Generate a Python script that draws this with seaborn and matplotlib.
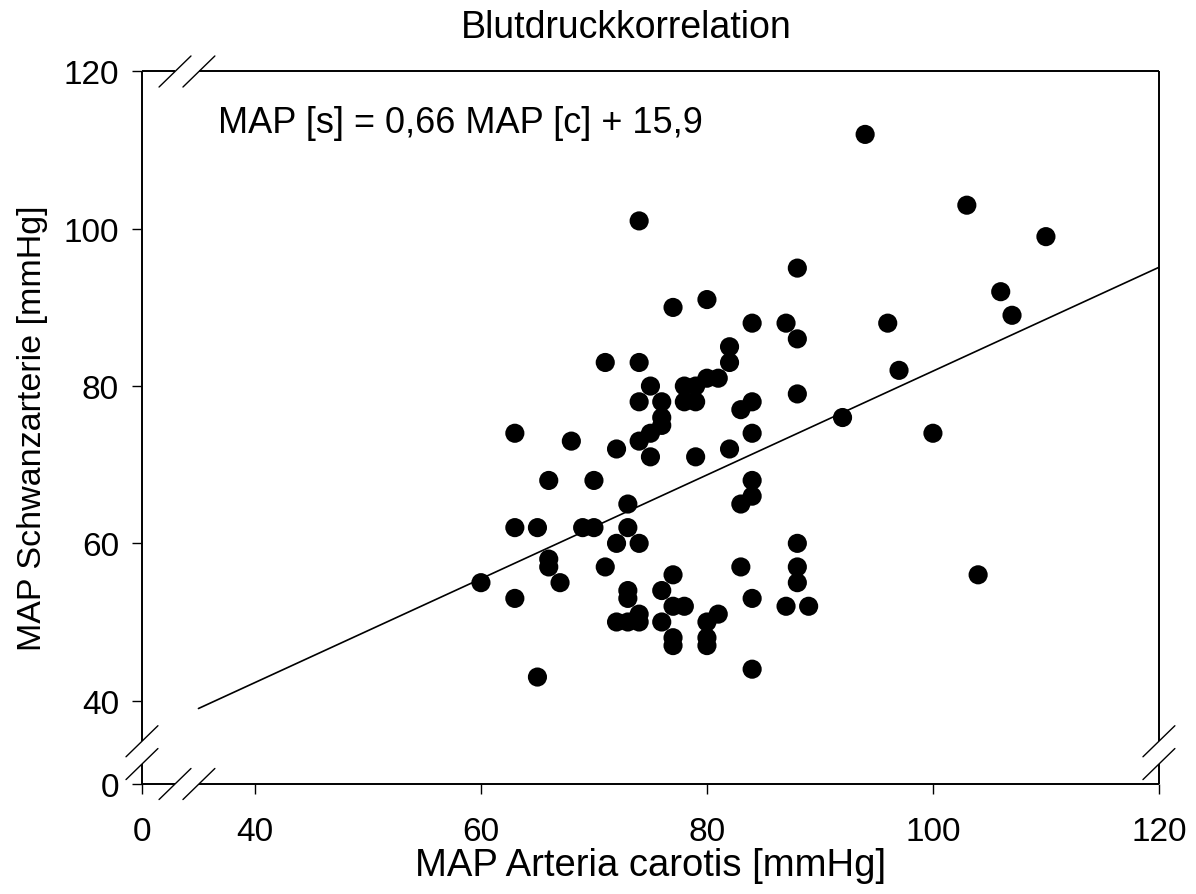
import numpy as np
import pandas as pd
import matplotlib
matplotlib.use("Agg")
import matplotlib.pyplot as plt
import seaborn as sns

# ─── DATA ─────────────────────────────────────────────────────
carotis = [60,
           63, 63, 63,
           65, 65,
           66, 66, 66,
           67, 68, 69,
           70, 70,
           71, 71,
           72, 72, 72,
           73, 73, 73, 73, 73,
           74, 74, 74, 74, 74, 74, 74,
           75, 75, 75,
           76, 76, 76, 76, 76,
           77, 77, 77, 77, 77,
           78, 78, 78,
           79, 79, 79,
           80, 80, 80, 80, 80,
           81, 81,
           82, 82, 82,
           83, 83, 83,
           84, 84, 84, 84, 84, 84, 84,
           87, 87,
           88, 88, 88, 88, 88, 88,
           89, 92, 94, 96, 97, 100, 103, 104, 106, 107, 110]
schwanz = [55,
           53, 62, 74,
           43, 62,
           68, 58, 57,
           55, 73, 62,
           62, 68,
           83, 57,
           72, 60, 50,
           65, 62, 54, 53, 50,
           101, 83, 78, 73, 60, 51, 50,
           80, 74, 71,
           78, 76, 75, 54, 50,
           90, 56, 52, 48, 47,
           80, 78, 52,
           80, 78, 71,
           91, 81, 50, 48, 47,
           81, 51,
           85, 83, 72,
           77, 65, 57,
           88, 78, 74, 68, 66, 53, 44,
           88, 52,
           95, 86, 79, 60, 57, 55,
           52, 76, 112, 88, 82, 74, 103, 56, 92, 89, 99]

fit_slope = 0.66
fit_intercept = 15.9
fit_range = [35, 120]

ticks = [0, 40, 60, 80, 100, 120]

df = pd.DataFrame({"carotis": carotis, "schwanz": schwanz})
fit = pd.DataFrame({"x": fit_range})
fit["y"] = fit_intercept + fit_slope * fit["x"]

# ─── BROKEN-AXIS SCALES ───────────────────────────────────────
BREAK = 35.0


def make_scale(low0):
    # 0..BREAK squeezed into low0..BREAK, linear above BREAK
    k = (BREAK - low0) / BREAK

    def fwd(v):
        v = np.asarray(v, dtype=float)
        return np.where(v >= BREAK, v, low0 + v * k)

    def inv(p):
        p = np.asarray(p, dtype=float)
        return np.where(p >= BREAK, p, (p - low0) / k)

    return fwd, inv


# ─── PLOT ─────────────────────────────────────────────────────
sns.set_style("ticks")
plt.rcParams["font.family"] = ["Liberation Sans", "DejaVu Sans"]
for key in ["text.color", "axes.labelcolor", "xtick.color", "ytick.color"]:
    plt.rcParams[key] = "black"

fig = plt.figure(figsize=(11.96, 8.95), dpi=100)
ax = fig.add_axes([0.1187, 0.1229, 0.8503, 0.7961])

ax.set_xscale("function", functions=make_scale(30.0))
ax.set_yscale("function", functions=make_scale(29.4))

sns.lineplot(data=fit, x="x", y="y", color="black", linewidth=1.2, ax=ax, zorder=2)
sns.scatterplot(data=df, x="carotis", y="schwanz", color="black", s=190,
                edgecolor="none", linewidth=0, ax=ax, zorder=3)

ax.set_xlim(0, 120)
ax.set_ylim(0, 120)
ax.set_xticks(ticks)
ax.set_yticks(ticks)
ax.set_xticklabels([str(t) for t in ticks])
ax.set_yticklabels([str(t) for t in ticks])
ax.tick_params(axis="both", direction="out", length=7.5, width=1.0,
               labelsize=24, color="black")
ax.tick_params(axis="x", pad=15.5)
ax.tick_params(axis="y", pad=9)
ax.grid(False)

# frame with breaks drawn by hand
for s in ax.spines.values():
    s.set_visible(False)

x_gap = (0.0325, 0.056)
y_gap = (0.028, 0.060)
lk = dict(color="black", lw=1.4, transform=ax.transAxes, clip_on=False,
          solid_capstyle="butt", zorder=5)
for yy in (0, 1):
    ax.plot([0, x_gap[0]], [yy, yy], **lk)
    ax.plot([x_gap[1], 1], [yy, yy], **lk)
for xx in (0, 1):
    ax.plot([xx, xx], [0, y_gap[0]], **lk)
    ax.plot([xx, xx], [y_gap[1], 1], **lk)

dx, dy = 0.0157, 0.0218
sk = dict(color="black", lw=1.0, transform=ax.transAxes, clip_on=False, zorder=5)
for yy in (0, 1):
    for gx in x_gap:
        ax.plot([gx - dx, gx + dx], [yy - dy, yy + dy], **sk)
for xx in (0, 1):
    for gy in y_gap:
        ax.plot([xx - dx, xx + dx], [gy - dy, gy + dy], **sk)

ax.text(0.075, 0.929, "MAP [s] = 0,66 MAP [c] + 15,9", transform=ax.transAxes,
        ha="left", va="center", fontsize=26)

ax.set_xlabel("MAP Arteria carotis [mmHg]", fontsize=27.5)
ax.xaxis.label.set_va("center")
ax.xaxis.set_label_coords(0.5, -0.114)
ax.set_ylabel("MAP Schwanzarterie [mmHg]", fontsize=24.5)
ax.yaxis.label.set_va("center")
ax.yaxis.label.set_ha("center")
ax.yaxis.set_label_coords(-0.108, 0.5)
fig.text(0.524, 0.9687, "Blutdruckkorrelation", ha="center", va="center", fontsize=27)

fig.savefig("out.png", dpi=100)
plt.close(fig)
